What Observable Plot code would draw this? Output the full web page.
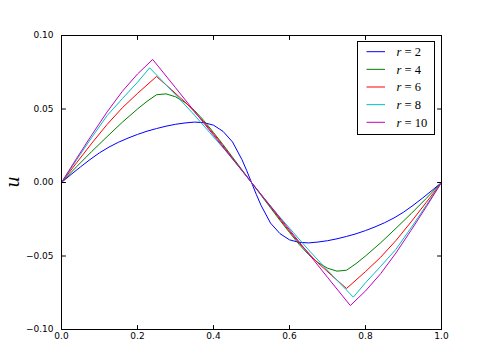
<!DOCTYPE html>
<html><head><meta charset="utf-8">
<script src="https://cdn.jsdelivr.net/npm/d3@7"></script>
<script src="https://cdn.jsdelivr.net/npm/@observablehq/plot@0.6"></script>
<style>body{margin:0;background:#fff;} #chart{width:490px;height:348px;}</style>
</head><body><div id="chart"></div>
<script>
const xTicks = [0, 0.2, 0.4, 0.6, 0.8, 1.0];
const xTickLabels = ["0.0", "0.2", "0.4", "0.6", "0.8", "1.0"];
const yTicks = [-0.1, -0.05, 0, 0.05, 0.1];
const yTickLabels = ["\u22120.10", "\u22120.05", "0.00", "0.05", "0.10"];
const seriesNames = ["2", "4", "6", "8", "10"];
const seriesColors = ["#0000ff", "#008000", "#ff0000", "#00bfbf", "#bf00bf"];

const x_r2 = [0,0.025,0.05,0.075,0.1,0.125,0.15,0.175,0.2,0.225,0.25,0.275,0.3,0.325,0.35,0.375,0.4,0.425,0.45,0.475,0.4875,0.5,0.5125,0.525,0.55,0.575,0.6,0.625,0.65,0.675,0.7,0.725,0.75,0.775,0.8,0.825,0.85,0.875,0.9,0.925,0.95,0.975,1];
const u_r2 = [0,0.0054,0.0106,0.0156,0.0202,0.0241,0.0274,0.0302,0.0327,0.0349,0.0367,0.0383,0.0396,0.0405,0.0411,0.0407,0.0390,0.0348,0.0276,0.0155,0.0080,0,-0.0080,-0.0155,-0.0276,-0.0348,-0.0390,-0.0407,-0.0411,-0.0405,-0.0396,-0.0383,-0.0367,-0.0349,-0.0327,-0.0302,-0.0274,-0.0241,-0.0202,-0.0156,-0.0106,-0.0054,0];

const x_r4 = [0,0.04,0.08,0.12,0.16,0.2,0.225,0.25,0.275,0.3,0.325,0.35,0.375,0.4,0.425,0.45,0.475,0.5,0.525,0.55,0.575,0.6,0.625,0.65,0.675,0.7,0.725,0.75,0.775,0.8,0.84,0.88,0.92,0.96,1];
const u_r4 = [0,0.0108,0.0212,0.0312,0.0410,0.0500,0.0552,0.0597,0.0603,0.0583,0.0545,0.0490,0.0420,0.0340,0.0258,0.0172,0.0086,0,-0.0086,-0.0172,-0.0258,-0.0340,-0.0420,-0.0490,-0.0545,-0.0583,-0.0603,-0.0597,-0.0552,-0.0500,-0.0410,-0.0312,-0.0212,-0.0108,0];

const x_r6 = [0,0.04,0.08,0.12,0.16,0.2,0.25,0.29,0.33,0.37,0.41,0.45,0.5,0.55,0.59,0.63,0.67,0.71,0.75,0.8,0.84,0.88,0.92,0.96,1];
const u_r6 = [0,0.0135,0.0268,0.0395,0.0508,0.0606,0.0721,0.0630,0.0535,0.0425,0.0300,0.0165,0,-0.0165,-0.0300,-0.0425,-0.0535,-0.0630,-0.0721,-0.0606,-0.0508,-0.0395,-0.0268,-0.0135,0];

const x_r8 = [0,0.04,0.08,0.12,0.16,0.2,0.232,0.27,0.31,0.35,0.39,0.43,0.47,0.5,0.53,0.57,0.61,0.65,0.69,0.73,0.768,0.8,0.84,0.88,0.92,0.96,1];
const u_r8 = [0,0.0155,0.0308,0.0455,0.0570,0.0682,0.0780,0.0678,0.0570,0.0458,0.0340,0.0222,0.0097,0,-0.0097,-0.0222,-0.0340,-0.0458,-0.0570,-0.0678,-0.0780,-0.0682,-0.0570,-0.0455,-0.0308,-0.0155,0];

const x_r10 = [0,0.04,0.08,0.12,0.16,0.2,0.24,0.3,0.35,0.4,0.45,0.5,0.55,0.6,0.65,0.7,0.76,0.8,0.84,0.88,0.92,0.96,1];
const u_r10 = [0,0.0165,0.0325,0.0480,0.0620,0.0738,0.0837,0.0645,0.0483,0.0322,0.0161,0,-0.0161,-0.0322,-0.0483,-0.0645,-0.0837,-0.0738,-0.0620,-0.0480,-0.0325,-0.0165,0];

const seriesX = [x_r2, x_r4, x_r6, x_r8, x_r10];
const seriesU = [u_r2, u_r4, u_r6, u_r8, u_r10];
const data = seriesNames.flatMap((r, k) => seriesX[k].map((x, i) => ({r, x, u: seriesU[k][i]})));

const tickShape = {draw(context, l) { context.moveTo(0, 0); context.lineTo(0, -l); }};
const tickOpts = {length: 4, anchor: "start", shape: tickShape, stroke: "#000", strokeWidth: 1};

const plot = Plot.plot({
  width: 490, height: 348,
  marginLeft: 61, marginRight: 49, marginTop: 35, marginBottom: 19,
  style: {fontFamily: "DejaVu Sans", fontSize: "9px", background: "#fff", color: "#000", overflow: "visible"},
  x: {domain: [0, 1], label: null},
  y: {domain: [-0.1, 0.1], label: null},
  color: {domain: seriesNames, range: seriesColors},
  marks: [
    Plot.line(data, {x: "x", y: "u", z: "r", stroke: "r", strokeWidth: 1}),
    Plot.vector(xTicks, {x: d => d, frameAnchor: "bottom", rotate: 0, ...tickOpts}),
    Plot.vector(xTicks, {x: d => d, frameAnchor: "top", rotate: 180, ...tickOpts}),
    Plot.vector(yTicks, {y: d => d, frameAnchor: "left", rotate: 90, ...tickOpts}),
    Plot.vector(yTicks, {y: d => d, frameAnchor: "right", rotate: -90, ...tickOpts}),
    Plot.axisX({anchor: "bottom", ticks: xTicks, tickSize: 0, tickPadding: 3, tickFormat: (d, i) => xTickLabels[i], label: null, fill: "#000"}),
    Plot.axisY({anchor: "left", ticks: yTicks, tickSize: 0, tickPadding: 8, tickFormat: (d, i) => yTickLabels[i], label: null, fill: "#000"}),
    Plot.frame({stroke: "#000", strokeWidth: 1})
  ]
});
document.getElementById("chart").appendChild(plot);

const svg = d3.select(plot);
// y label
svg.append("text")
  .attr("transform", "translate(19,182) rotate(-90)")
  .attr("text-anchor", "middle")
  .attr("font-family", "DejaVu Serif")
  .attr("font-style", "italic")
  .attr("font-size", 18)
  .attr("fill", "#000")
  .text("u");

// legend
const lg = svg.append("g").attr("text-anchor", "start");
lg.append("rect").attr("x", 357.5).attr("y", 41.5).attr("width", 77).attr("height", 93)
  .attr("fill", "#fff").attr("stroke", "#000").attr("stroke-width", 1);
seriesNames.forEach((name, i) => {
  const y = 51.7 + i * 17.65;
  lg.append("line").attr("x1", 366.5).attr("x2", 385).attr("y1", y).attr("y2", y)
    .attr("stroke", seriesColors[i]).attr("stroke-width", 1);
  const t = lg.append("text").attr("x", 396.5).attr("y", y + 4.2)
    .attr("text-anchor", "start")
    .attr("font-family", "Liberation Serif").attr("font-size", 12.5).attr("fill", "#000")
    .style("white-space", "pre");
  t.append("tspan").attr("font-style", "italic").text("r");
  t.append("tspan").text(" = " + name);
});
</script>
</body></html>
